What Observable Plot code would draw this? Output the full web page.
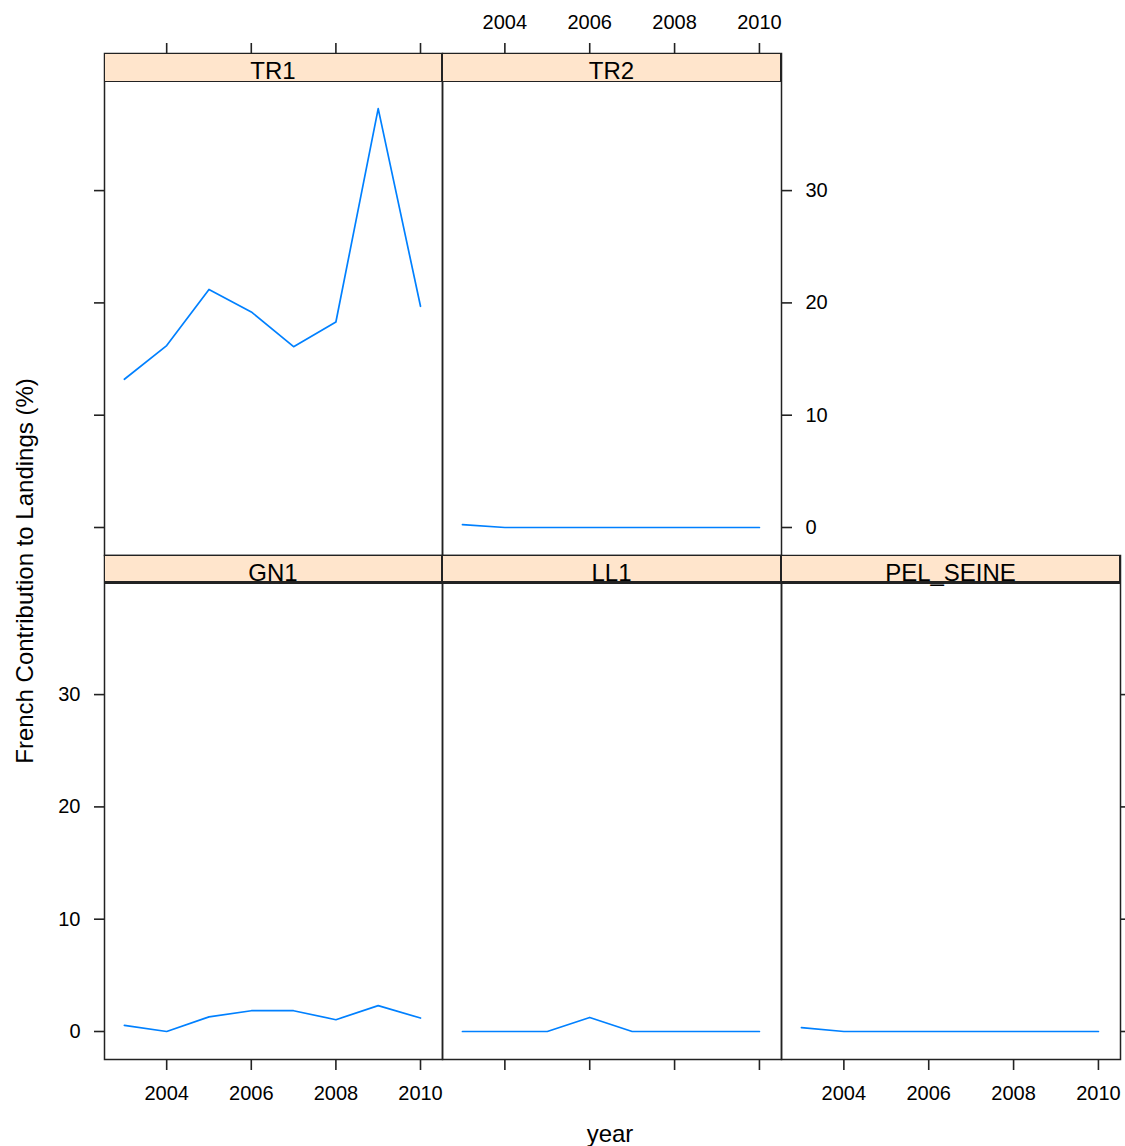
<!DOCTYPE html>
<html><head><meta charset="utf-8">
<script src="https://cdn.jsdelivr.net/npm/d3@7"></script>
<script src="https://cdn.jsdelivr.net/npm/@observablehq/plot@0.6"></script>
<style>
body{margin:0;background:#fff;}
#chart{position:relative;width:1125px;height:1146px;overflow:hidden;font-family:"Liberation Sans",Arial,sans-serif;background:#fff;}
#chart svg{position:absolute;}
#chart svg g[aria-label$="tick"] path{stroke-width:1.6;stroke:#222;}
.strip{position:absolute;box-sizing:border-box;background:#ffe5cc;border:1.5px solid #222;text-align:center;font-size:24px;line-height:24px;color:#000;overflow:visible;white-space:nowrap;}
.lab{position:absolute;font-size:24px;color:#000;white-space:nowrap;}
</style></head><body><div id="chart"></div>
<script>
// ---- data ----
const years = [2003, 2004, 2005, 2006, 2007, 2008, 2009, 2010];
const tr1 = [13.2, 16.2, 21.2, 19.2, 16.1, 18.3, 37.3, 19.7];
const tr2 = [0.25, 0, 0, 0, 0, 0, 0, 0];
const gn1 = [0.55, 0, 1.3, 1.85, 1.85, 1.05, 2.3, 1.2];
const ll1 = [0, 0, 0, 1.25, 0, 0, 0, 0];
const pelSeine = [0.35, 0, 0, 0, 0, 0, 0, 0];
const panelNames = ["TR1", "TR2", "GN1", "LL1", "PEL_SEINE"];
const xTicks = [2004, 2006, 2008, 2010];
const yTicks = [0, 10, 20, 30];
const xLabel = "year";
const yLabel = "French Contribution to Landings (%)";

// ---- layout ----
const series = [tr1, tr2, gn1, ll1, pelSeine];
const layout = [
  {x: 104, w: 338, top: 53, h: 502, xAxis: "top", xLab: false, yAxis: "left", yLab: false},
  {x: 442, w: 339, top: 53, h: 502, xAxis: "top", xLab: true, yAxis: "right", yLab: true},
  {x: 104, w: 338, top: 555, h: 504, xAxis: "bottom", xLab: true, yAxis: "left", yLab: true},
  {x: 442, w: 339, top: 555, h: 504, xAxis: "bottom", xLab: false, yAxis: null, yLab: false},
  {x: 781, w: 339, top: 555, h: 504, xAxis: "bottom", xLab: true, yAxis: "right", yLab: false}
];
const STRIP = 28, K = 11.23, M = 70;
const chart = document.getElementById("chart");

panelNames.forEach((name, i) => {
  const L = layout[i];
  const data = years.map((year, j) => ({year, value: series[i][j]}));
  const svg = Plot.plot({
    width: L.w + 2 * M, height: L.h + 2 * M,
    marginLeft: M, marginRight: M, marginTop: M, marginBottom: M,
    style: {background: "transparent", overflow: "visible", maxWidth: "none",
            font: "20px 'Liberation Sans', Arial, sans-serif", color: "#000"},
    x: {domain: [2002.53, 2010.52], ticks: xTicks, axis: L.xAxis, label: null,
        tickFormat: L.xLab ? (d => String(d)) : (() => ""),
        tickSize: 11, tickPadding: L.xAxis === "top" ? 14 : 15},
    y: {domain: [-STRIP / K, (L.h - STRIP) / K], ticks: yTicks, axis: L.yAxis, label: null,
        tickFormat: L.yLab ? (d => String(d)) : (() => ""),
        tickSize: 10, tickPadding: 14},
    marks: [
      Plot.frame({stroke: "#222", strokeWidth: 1.5}),
      Plot.line(data, {x: "year", y: "value", stroke: "#0080ff", strokeWidth: 1.7})
    ]
  });
  svg.style.left = (L.x - M) + "px";
  svg.style.top = (L.top - M) + "px";
  chart.appendChild(svg);
});

panelNames.forEach((name, i) => {
  const L = layout[i];
  const s = document.createElement("div");
  s.className = "strip";
  s.style.left = L.x + "px";
  s.style.top = L.top + "px";
  s.style.width = L.w + "px";
  s.style.height = (STRIP + 1) + "px";
  s.style.paddingTop = "5px";
  if (L.top > 100) s.style.borderBottomWidth = "3px";
  s.textContent = name;
  chart.appendChild(s);
});

const xl = document.createElement("div");
xl.className = "lab";
xl.textContent = xLabel;
xl.style.left = "610px"; xl.style.top = "1134px";
xl.style.transform = "translate(-50%,-50%)";
chart.appendChild(xl);

const yl = document.createElement("div");
yl.className = "lab";
yl.textContent = yLabel;
yl.style.left = "25px"; yl.style.top = "571px";
yl.style.transform = "translate(-50%,-50%) rotate(-90deg)";
chart.appendChild(yl);
</script>
</body></html>
